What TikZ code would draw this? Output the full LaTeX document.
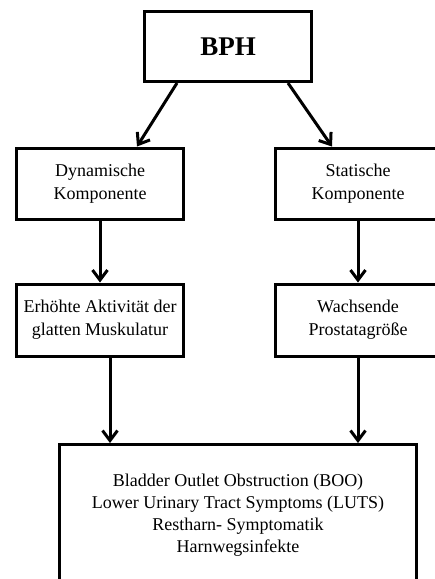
\documentclass[tikz,border=0pt]{standalone}
\usepackage{fontspec}
\setmainfont{Liberation Serif}
\usetikzlibrary{arrows.meta, positioning}

\begin{document}
\begin{tikzpicture}[
  x=1pt, y=-1pt,
  box/.style={draw, line width=3pt, minimum width=167pt, minimum height=71pt, inner sep=0pt, align=center, font=\fontsize{18}{23}\selectfont},
  arrow/.style={-{Straight Barb[length=10pt, width=15pt]}, line width=3pt}
]
\useasboundingbox (0,0) rectangle (435,579);

% Top node
\node[box, minimum height=70pt, font=\fontsize{27}{30}\selectfont\bfseries] (bph) at (228,46.5) {BPH};

% Two components
\node[box] (dyn) at (100,183.5) {Dynamische\\Komponente};
\node[box, minimum width=165pt] (stat) at (358,183.5) {Statische\\Komponente};

% Effects of each component
\node[box, minimum height=72pt, below=62pt of dyn] (akt) {Erhöhte Aktivität der\\glatten Muskulatur};
\node[box, minimum width=165pt, minimum height=72pt, below=62pt of stat] (groesse) {Wachsende\\Prostatagröße};

% Consequences
\node[box, minimum width=357pt, minimum height=141pt, font=\fontsize{18}{22}\selectfont] (folgen) at (238,515) {Bladder Outlet Obstruction (BOO)\\Lower Urinary Tract Symptoms (LUTS)\\Restharn- Symptomatik\\Harnwegsinfekte};

% Arrows from BPH
\draw[arrow] ([xshift=-51pt]bph.south) -- ([xshift=37pt]dyn.north);
\draw[arrow] ([xshift=60pt]bph.south) -- ([xshift=-26pt]stat.north);

% Arrows down to the effects
\draw[arrow] (dyn) -- (akt);
\draw[arrow] (stat) -- (groesse);

% Arrows into the consequences
\draw[arrow] ([xshift=10pt]akt.south) -- ([xshift=10pt]akt.south |- folgen.north);
\draw[arrow] (groesse) -- (groesse |- folgen.north);

\end{tikzpicture}
\end{document}
